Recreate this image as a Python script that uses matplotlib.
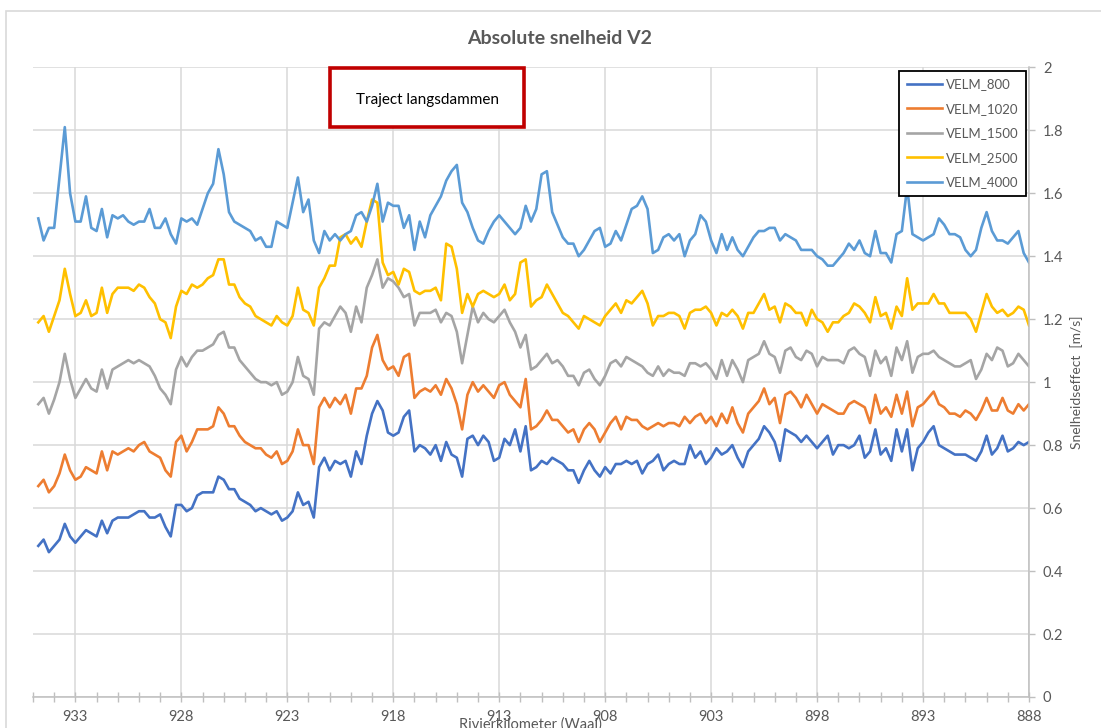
import numpy as np
import matplotlib
matplotlib.use("Agg")
import matplotlib.pyplot as plt
from matplotlib.patches import Rectangle
from matplotlib.ticker import FixedLocator, MultipleLocator

plt.rcParams["font.family"] = ["Lato", "DejaVu Sans"]

# River kilometre stations (Waal), every 0.25 km, upstream to downstream
km = np.round(np.arange(934.75, 887.99, -0.25), 2)

velm_800 = [
    0.48, 0.50, 0.46, 0.48, 0.50, 0.55, 0.51, 0.49, 0.51, 0.53, 0.52, 0.51, 0.56, 0.52, 0.56, 0.57,
    0.57, 0.57, 0.58, 0.59, 0.59, 0.57, 0.57, 0.58, 0.54, 0.51, 0.61, 0.61, 0.59, 0.60, 0.64,
    0.65, 0.65, 0.65, 0.70, 0.69, 0.66, 0.66, 0.63, 0.62, 0.61, 0.59, 0.60, 0.59, 0.58, 0.59,
    0.56, 0.57, 0.59, 0.65, 0.61, 0.62, 0.57, 0.73, 0.76, 0.72, 0.75, 0.74, 0.75, 0.70, 0.78,
    0.74, 0.83, 0.90, 0.94, 0.91, 0.84, 0.83, 0.84, 0.89, 0.91, 0.78, 0.80, 0.79, 0.77, 0.80, 0.75,
    0.81, 0.77, 0.76, 0.70, 0.82, 0.83, 0.80, 0.83, 0.81, 0.75, 0.76, 0.82, 0.80, 0.85, 0.78, 0.86,
    0.72, 0.73, 0.75, 0.74, 0.76, 0.75, 0.74, 0.72, 0.72, 0.68, 0.72, 0.75, 0.72, 0.70, 0.73, 0.71,
    0.74, 0.74, 0.75, 0.74, 0.75, 0.71, 0.74, 0.75, 0.77, 0.72, 0.74, 0.75, 0.74, 0.74, 0.80,
    0.76, 0.78, 0.74, 0.76, 0.79, 0.77, 0.78, 0.80, 0.76, 0.73, 0.78, 0.80, 0.82, 0.86, 0.84, 0.81,
    0.75, 0.85, 0.84, 0.83, 0.81, 0.83, 0.81, 0.79, 0.81, 0.83, 0.77, 0.80, 0.80, 0.79, 0.80, 0.83,
    0.76, 0.78, 0.85, 0.77, 0.79, 0.75, 0.85, 0.78, 0.85, 0.72, 0.79, 0.81, 0.84, 0.86, 0.80, 0.79,
    0.78, 0.77, 0.77, 0.77, 0.76, 0.75, 0.78, 0.83, 0.77, 0.79, 0.83, 0.78, 0.79, 0.81, 0.80, 0.81,
]

velm_1020 = [
    0.67, 0.69, 0.65, 0.67, 0.71, 0.77, 0.72, 0.69, 0.70, 0.73, 0.72, 0.71, 0.78, 0.72, 0.78, 0.77,
    0.78, 0.79, 0.78, 0.80, 0.81, 0.78, 0.77, 0.76, 0.72, 0.70, 0.81, 0.83, 0.78, 0.81, 0.85,
    0.85, 0.85, 0.86, 0.92, 0.90, 0.86, 0.86, 0.83, 0.81, 0.80, 0.79, 0.79, 0.77, 0.76, 0.78,
    0.74, 0.75, 0.78, 0.85, 0.80, 0.80, 0.74, 0.92, 0.95, 0.92, 0.95, 0.93, 0.96, 0.90, 0.98,
    0.98, 1.02, 1.11, 1.15, 1.07, 1.04, 1.05, 1.02, 1.08, 1.09, 0.95, 0.97, 0.98, 0.97, 0.99, 0.96,
    1.01, 0.98, 0.93, 0.85, 0.96, 1.00, 0.97, 0.99, 0.97, 0.95, 0.99, 1.00, 0.96, 0.94, 0.92, 1.01,
    0.85, 0.86, 0.88, 0.91, 0.88, 0.88, 0.86, 0.84, 0.85, 0.81, 0.85, 0.87, 0.85, 0.81, 0.84, 0.87,
    0.89, 0.85, 0.89, 0.88, 0.88, 0.86, 0.85, 0.86, 0.87, 0.86, 0.87, 0.87, 0.86, 0.89, 0.87,
    0.89, 0.90, 0.87, 0.89, 0.86, 0.90, 0.87, 0.92, 0.87, 0.84, 0.90, 0.92, 0.94, 0.98, 0.93, 0.95,
    0.87, 0.96, 0.97, 0.95, 0.92, 0.96, 0.93, 0.90, 0.93, 0.92, 0.91, 0.90, 0.90, 0.93, 0.94, 0.93,
    0.92, 0.87, 0.96, 0.90, 0.92, 0.89, 0.96, 0.90, 0.97, 0.86, 0.92, 0.93, 0.95, 0.97, 0.93, 0.92,
    0.90, 0.90, 0.89, 0.91, 0.90, 0.88, 0.91, 0.95, 0.91, 0.91, 0.95, 0.91, 0.90, 0.93, 0.91, 0.93,
]

velm_1500 = [
    0.93, 0.95, 0.90, 0.945, 1.00, 1.09, 1.01, 0.95, 0.98, 1.01, 0.98, 0.97, 1.04, 0.98, 1.04, 1.05,
    1.06, 1.07, 1.06, 1.07, 1.06, 1.05, 1.02, 0.98, 0.96, 0.93, 1.04, 1.08, 1.05, 1.08, 1.10,
    1.10, 1.11, 1.12, 1.15, 1.16, 1.11, 1.11, 1.07, 1.05, 1.03, 1.01, 1.00, 1.00, 0.99, 1.00,
    0.96, 0.97, 1.00, 1.08, 1.02, 1.01, 0.96, 1.17, 1.19, 1.18, 1.21, 1.24, 1.22, 1.16, 1.24,
    1.19, 1.30, 1.34, 1.39, 1.30, 1.33, 1.32, 1.30, 1.27, 1.28, 1.18, 1.22, 1.22, 1.22, 1.23, 1.19,
    1.22, 1.21, 1.16, 1.06, 1.15, 1.24, 1.19, 1.22, 1.20, 1.19, 1.21, 1.23, 1.19, 1.16, 1.11, 1.15,
    1.04, 1.05, 1.07, 1.09, 1.06, 1.07, 1.05, 1.02, 1.02, 0.99, 1.03, 1.04, 1.01, 0.99, 1.02, 1.06,
    1.07, 1.05, 1.08, 1.07, 1.06, 1.05, 1.03, 1.02, 1.05, 1.02, 1.04, 1.03, 1.03, 1.02, 1.06,
    1.06, 1.05, 1.06, 1.04, 1.01, 1.07, 1.02, 1.07, 1.04, 1.00, 1.07, 1.08, 1.09, 1.13, 1.09, 1.08,
    1.03, 1.10, 1.11, 1.08, 1.07, 1.10, 1.09, 1.05, 1.08, 1.07, 1.07, 1.07, 1.06, 1.10, 1.11, 1.09,
    1.08, 1.02, 1.10, 1.06, 1.08, 1.02, 1.11, 1.07, 1.13, 1.03, 1.08, 1.09, 1.09, 1.10, 1.08, 1.07,
    1.06, 1.05, 1.05, 1.06, 1.07, 1.01, 1.04, 1.09, 1.07, 1.11, 1.10, 1.05, 1.06, 1.09, 1.07, 1.05,
]

velm_2500 = [
    1.19, 1.21, 1.16, 1.21, 1.26, 1.36, 1.28, 1.21, 1.22, 1.26, 1.21, 1.22, 1.30, 1.22, 1.28, 1.30,
    1.30, 1.30, 1.29, 1.31, 1.30, 1.27, 1.25, 1.20, 1.19, 1.14, 1.24, 1.29, 1.28, 1.31, 1.30,
    1.31, 1.33, 1.34, 1.39, 1.39, 1.31, 1.31, 1.27, 1.25, 1.24, 1.21, 1.20, 1.19, 1.18, 1.21,
    1.19, 1.18, 1.21, 1.30, 1.23, 1.22, 1.18, 1.30, 1.33, 1.37, 1.37, 1.46, 1.47, 1.44, 1.46,
    1.43, 1.51, 1.58, 1.57, 1.38, 1.34, 1.35, 1.31, 1.36, 1.35, 1.29, 1.28, 1.29, 1.29, 1.30, 1.26,
    1.44, 1.43, 1.36, 1.22, 1.28, 1.24, 1.28, 1.29, 1.28, 1.27, 1.28, 1.31, 1.26, 1.28, 1.38, 1.39,
    1.24, 1.26, 1.27, 1.31, 1.28, 1.25, 1.22, 1.21, 1.19, 1.17, 1.21, 1.20, 1.19, 1.18, 1.21, 1.23,
    1.25, 1.22, 1.26, 1.25, 1.27, 1.29, 1.25, 1.18, 1.21, 1.21, 1.22, 1.22, 1.21, 1.17, 1.22,
    1.23, 1.23, 1.24, 1.22, 1.18, 1.22, 1.21, 1.23, 1.21, 1.17, 1.22, 1.22, 1.25, 1.28, 1.23, 1.24,
    1.19, 1.25, 1.24, 1.22, 1.22, 1.18, 1.23, 1.20, 1.19, 1.16, 1.19, 1.19, 1.21, 1.22, 1.25, 1.24,
    1.22, 1.19, 1.27, 1.21, 1.22, 1.17, 1.24, 1.21, 1.33, 1.23, 1.25, 1.25, 1.25, 1.28, 1.25, 1.25,
    1.22, 1.22, 1.22, 1.22, 1.20, 1.16, 1.22, 1.28, 1.24, 1.22, 1.23, 1.21, 1.22, 1.24, 1.23, 1.18,
]

velm_4000 = [
    1.52, 1.45, 1.49, 1.49, 1.65, 1.81, 1.60, 1.51, 1.51, 1.59, 1.49, 1.48, 1.55, 1.46, 1.53, 1.52,
    1.53, 1.51, 1.50, 1.51, 1.51, 1.55, 1.49, 1.49, 1.52, 1.47, 1.44, 1.52, 1.51, 1.52, 1.50,
    1.55, 1.60, 1.63, 1.74, 1.66, 1.54, 1.51, 1.50, 1.49, 1.48, 1.45, 1.46, 1.43, 1.43, 1.51,
    1.50, 1.49, 1.57, 1.65, 1.54, 1.58, 1.45, 1.41, 1.48, 1.45, 1.47, 1.45, 1.47, 1.48, 1.53,
    1.54, 1.51, 1.56, 1.63, 1.51, 1.57, 1.56, 1.56, 1.49, 1.53, 1.42, 1.51, 1.46, 1.53, 1.56, 1.59,
    1.64, 1.67, 1.69, 1.57, 1.54, 1.49, 1.45, 1.44, 1.48, 1.51, 1.53, 1.51, 1.49, 1.47, 1.49, 1.56,
    1.51, 1.55, 1.66, 1.67, 1.54, 1.50, 1.46, 1.44, 1.44, 1.40, 1.42, 1.45, 1.48, 1.49, 1.43, 1.44,
    1.48, 1.45, 1.50, 1.55, 1.56, 1.59, 1.55, 1.41, 1.42, 1.46, 1.47, 1.45, 1.47, 1.40, 1.45,
    1.47, 1.53, 1.51, 1.45, 1.41, 1.47, 1.42, 1.46, 1.42, 1.40, 1.43, 1.46, 1.48, 1.48, 1.49, 1.49,
    1.45, 1.47, 1.46, 1.45, 1.42, 1.42, 1.42, 1.40, 1.39, 1.37, 1.37, 1.39, 1.41, 1.44, 1.42, 1.45,
    1.41, 1.40, 1.48, 1.41, 1.41, 1.38, 1.47, 1.48, 1.62, 1.47, 1.46, 1.45, 1.46, 1.47, 1.52, 1.50,
    1.47, 1.47, 1.46, 1.42, 1.40, 1.42, 1.49, 1.54, 1.48, 1.45, 1.45, 1.44, 1.46, 1.48, 1.41, 1.38,
]

series_names = ["VELM_800", "VELM_1020", "VELM_1500", "VELM_2500", "VELM_4000"]
series_values = [velm_800, velm_1020, velm_1500, velm_2500, velm_4000]
series_colors = ["#4472C4", "#ED7D31", "#A5A5A5", "#FFC000", "#5B9BD5"]

major_km = [933, 928, 923, 918, 913, 908, 903, 898, 893, 888]
y_ticks = [0, 0.2, 0.4, 0.6, 0.8, 1, 1.2, 1.4, 1.6, 1.8, 2]
y_tick_labels = ["0", "0.2", "0.4", "0.6", "0.8", "1", "1.2", "1.4", "1.6", "1.8", "2"]

TXT = "#595959"
GRID = "#D9D9D9"
AXLINE = "#BFBFBF"

W, H = 1101, 728
fig = plt.figure(figsize=(W / 100, H / 100), dpi=100)

# outer chart frame
fig.patches.append(Rectangle((6 / W, -0.05), 1.2, (H - 11) / H + 0.05,
                             transform=fig.transFigure, fill=False,
                             edgecolor=GRID, linewidth=1.2))

ax = fig.add_axes([33 / W, 1 - 697 / H, (1029 - 33) / W, (697 - 67.3) / H])

for name, vals, col in zip(series_names, series_values, series_colors):
    ax.plot(km, vals, color=col, lw=1.9, label=name, solid_joinstyle="round")

ax.set_xlim(935, 888)
ax.set_ylim(0, 2)

ax.xaxis.set_major_locator(FixedLocator(major_km))
ax.xaxis.set_minor_locator(MultipleLocator(1))
ax.set_xticklabels([str(k) for k in major_km])
ax.set_yticks(y_ticks)
ax.set_yticklabels(y_tick_labels)

ax.yaxis.tick_right()
ax.yaxis.set_label_position("right")

ax.grid(True, which="major", color=GRID, lw=1.1)
ax.set_axisbelow(True)

for s in ["left", "top"]:
    ax.spines[s].set_visible(False)
ax.spines["bottom"].set_color(AXLINE)
ax.spines["right"].set_color(AXLINE)
ax.spines["bottom"].set_linewidth(1.1)
ax.spines["right"].set_linewidth(1.1)

ax.tick_params(axis="x", which="both", direction="inout", length=7, width=1,
               color=AXLINE, labelcolor=TXT, labelsize=10.5, pad=6)
ax.tick_params(axis="y", which="major", direction="out", length=4, width=1,
               color=AXLINE, labelcolor=TXT, labelsize=10.5, pad=6)

ax.set_ylabel("Snelheidseffect  [m/s]", color=TXT, fontsize=10, labelpad=5)

fig.text(530 / W, 1 - 717 / H, "Rivierkilometer (Waal)", color=TXT,
         fontsize=10.5, ha="center", va="top")

fig.text(560 / W, 1 - 38 / H, "Absolute snelheid V2", color=TXT,
         fontsize=14, fontweight="bold", ha="center", va="center")

# annotation box
fig.patches.append(Rectangle((330 / W, 1 - 127 / H), 194 / W, 59 / H,
                             transform=fig.transFigure, fill=True, facecolor="white",
                             edgecolor="#C00000", linewidth=2.6, zorder=5))
fig.text(427 / W, 1 - 100 / H, "Traject langsdammen", color="black",
         fontsize=11, ha="center", va="center", zorder=6)

leg = ax.legend(loc="upper right", bbox_to_anchor=(1026 / W, 1 - 71 / H),
                bbox_transform=fig.transFigure, frameon=True, fancybox=False,
                edgecolor="black", framealpha=1, fontsize=9.5, handlelength=2.7,
                handletextpad=0.3, labelspacing=0.95, borderpad=0.55,
                borderaxespad=0)
leg.get_frame().set_linewidth(1.3)
for t in leg.get_texts():
    t.set_color(TXT)

fig.savefig("out.png", dpi=100)
